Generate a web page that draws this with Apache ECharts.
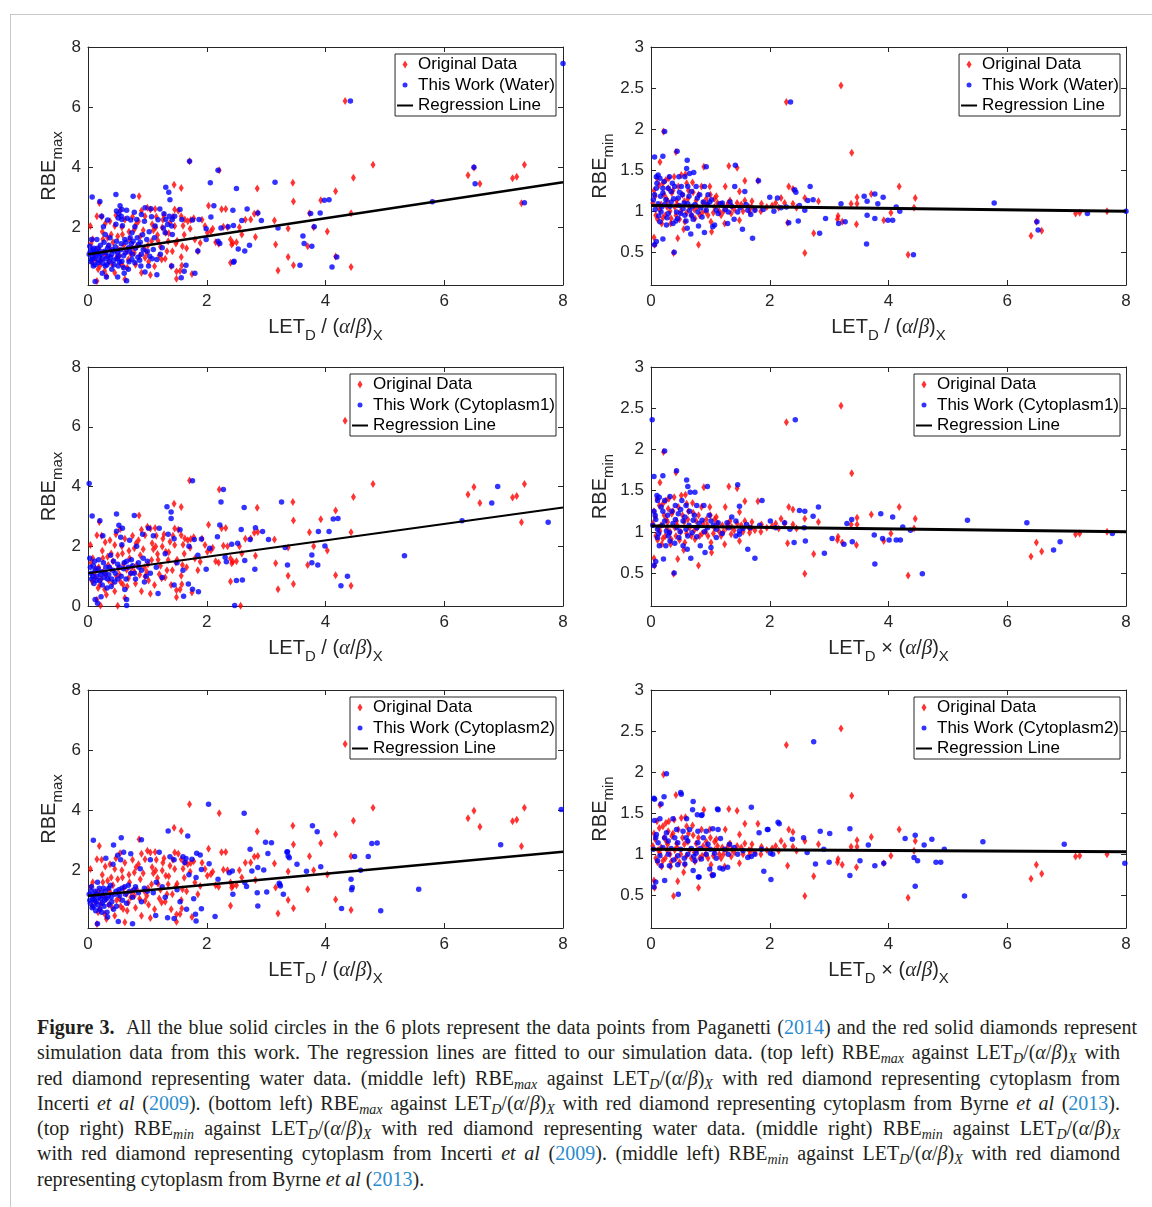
<!DOCTYPE html>
<html>
<head>
<meta charset="utf-8">
<script src="https://cdn.jsdelivr.net/npm/echarts@6/dist/echarts.min.js"></script>
<style>
  body { margin: 0; background: #fff; }
  #frame { position: absolute; left: 10px; top: 14px; width: 1142px; height: 1193px; border-top: 1px solid #c8c8c8; border-left: 1px solid #c8c8c8; }
  #chart { position: absolute; left: 0; top: 0; width: 1152px; height: 1000px; }
  #caption { position: absolute; left: 37px; top: 1015px; width: 1083px; font-family: 'Liberation Serif', serif; font-size: 20px; line-height: 25.3px; color: #231f20; }
  #caption div { white-space: nowrap; text-align: justify; text-align-last: justify; }
  #caption div.first { width: 1100px; }
  #caption div.last { text-align-last: left; }
  #caption sub { font-size: 0.7em; line-height: 0; vertical-align: -0.3em; }
  .yr { color: #2b8ccd; }
</style>
</head>
<body>
<div id="frame"></div>
<div id="chart"></div>
<div id="caption">
  <div class="first"><b>Figure 3.</b>&nbsp; All the blue solid circles in the 6 plots represent the data points from Paganetti (<span class="yr">2014</span>) and the red solid diamonds represent</div>
  <div>simulation data from this work. The regression lines are fitted to our simulation data. (top left) RBE<sub><i>max</i></sub> against LET<sub><i>D</i></sub>/(<i>α</i>/<i>β</i>)<sub><i>X</i></sub> with</div>
  <div>red diamond representing water data. (middle left) RBE<sub><i>max</i></sub> against LET<sub><i>D</i></sub>/(<i>α</i>/<i>β</i>)<sub><i>X</i></sub> with red diamond representing cytoplasm from</div>
  <div>Incerti <i>et al</i> (<span class="yr">2009</span>). (bottom left) RBE<sub><i>max</i></sub> against LET<sub><i>D</i></sub>/(<i>α</i>/<i>β</i>)<sub><i>X</i></sub> with red diamond representing cytoplasm from Byrne <i>et al</i> (<span class="yr">2013</span>).</div>
  <div>(top right) RBE<sub><i>min</i></sub> against LET<sub><i>D</i></sub>/(<i>α</i>/<i>β</i>)<sub><i>X</i></sub> with red diamond representing water data. (middle right) RBE<sub><i>min</i></sub> against LET<sub><i>D</i></sub>/(<i>α</i>/<i>β</i>)<sub><i>X</i></sub></div>
  <div>with red diamond representing cytoplasm from Incerti <i>et al</i> (<span class="yr">2009</span>). (middle left) RBE<sub><i>min</i></sub> against LET<sub><i>D</i></sub>/(<i>α</i>/<i>β</i>)<sub><i>X</i></sub> with red diamond</div>
  <div class="last">representing cytoplasm from Byrne <i>et al</i> (<span class="yr">2013</span>).</div>
</div>
<script>
const xTicks = [0, 2, 4, 6, 8]
const maxTicks = [2, 4, 6, 8]
const maxTicksZero = [0, 2, 4, 6, 8]
const minTicks = [0.5, 1, 1.5, 2, 2.5, 3]

// red diamonds, RBEmax (same in the three left plots)
const origMax = [[0.04,2.04],[0.07,0.82],[0.15,0.21],[0.15,2.37],[0.19,2.81],[0.2,0.71],[0.23,2.35],[0.26,1.15],[0.29,2.13],[0.31,0.38],[0.34,1.37],[0.39,1.76],[0.45,2.04],[0.45,0.49],[0.51,1.26],[0.54,2.57],[0.58,1.76],[0.59,0.71],[0.62,0.27],[0.65,1.21],[0.68,0.93],[0.78,1.93],[0.78,1.15],[0.82,1.37],[0.85,2.2],[0.86,3.03],[0.9,0.49],[0.96,2.37],[0.96,0.99],[0.99,1.15],[1.05,2.59],[1.05,0.41],[1.07,1.54],[1.13,2.61],[1.14,1.99],[1.17,1.74],[1.2,1.06],[1.24,0.93],[1.25,1.99],[1.31,1.82],[1.35,1.54],[1.45,3.42],[1.46,2.59],[1.46,2.04],[1.48,1.46],[1.49,0.53],[1.49,0.29],[1.57,3.31],[1.57,2.37],[1.57,1.01],[1.58,0.73],[1.59,1.37],[1.63,2.26],[1.71,4.2],[1.73,2.24],[1.8,1.59],[1.89,1.48],[1.97,2.04],[2.01,1.82],[2.03,2.72],[2.07,1.87],[2.21,3.9],[2.28,2.02],[2.32,2.61],[2.4,1.59],[2.4,0.82],[2.42,1.43],[2.44,1.48],[2.59,1.76],[2.74,2.26],[2.82,1.68],[2.85,3.29],[2.86,2.48],[3.14,2.23],[3.16,1.43],[3.2,0.56],[3.37,1.96],[3.37,1.01],[3.45,3.48],[3.46,2.86],[3.46,0.74],[3.7,1.37],[3.73,2.47],[3.8,2.0],[3.92,2.9],[4.03,1.86],[4.17,3.2],[4.17,1.03],[4.33,6.2],[4.43,2.47],[4.43,0.68],[4.47,3.65],[4.8,4.08],[6.4,3.73],[6.5,3.98],[6.6,3.45],[7.15,3.63],[7.22,3.68],[7.3,2.8],[7.35,4.08],
  [0.21,0.02],[0.5,0.01],[2.57,0.01],
  [0.05,1.45],[0.1,1.1],[0.12,0.95],[0.18,1.3],[0.22,0.9],[0.25,1.6],[0.3,1.05],[0.35,0.85],[0.38,1.25],[0.42,1.5],[0.48,1.0],[0.5,1.7],[0.55,0.8],[0.6,1.4],[0.62,2.25],[0.7,1.6],[0.72,1.1],[0.75,2.35],[0.8,0.75],[0.88,1.7],[0.9,2.55],[0.95,1.3],[1.0,2.65],[1.02,0.85],[1.1,1.9],[1.15,2.35],[1.22,1.35],[1.28,2.4],[1.3,0.95],[1.38,2.15],[1.4,0.7],[1.42,1.2],[1.52,2.55],[1.55,0.55],[1.62,1.75],[1.68,2.2],[1.75,0.45],[1.85,1.2],[1.92,2.25],[2.1,1.95],[2.15,1.5],[2.2,1.45],[2.25,2.6],[2.35,2.0],[2.5,1.5],[2.55,2.0],[2.65,2.25],[2.8,2.45],
  [0.08,1.6],[0.13,1.25],[0.17,0.6],[0.24,1.85],[0.28,0.55],[0.33,1.65],[0.37,2.2],[0.41,0.75],[0.47,2.4],[0.53,1.05],[0.57,2.0],[0.66,0.65],[0.69,1.85],[0.74,1.3],[0.81,2.1],[0.87,1.05],[0.93,1.9],[1.01,1.4],[1.08,2.1],[1.12,0.7],[1.18,1.55],[1.26,2.25],[1.33,1.2],[1.36,1.8],[1.43,2.35],[1.5,1.55],[1.6,2.05],[1.66,1.3],[1.72,1.95],[1.78,2.3]]

// blue circles, RBEmax
const waterMax = [[0.03,1.37],[0.06,1.59],[0.06,0.93],[0.07,3.01],[0.09,0.71],[0.11,1.15],[0.12,0.2],[0.15,1.59],[0.17,0.82],[0.2,2.86],[0.2,1.21],[0.23,2.37],[0.24,0.47],[0.26,2.02],[0.29,1.76],[0.29,0.71],[0.31,0.35],[0.33,2.24],[0.34,1.04],[0.37,1.65],[0.4,0.6],[0.45,1.21],[0.47,3.09],[0.48,2.54],[0.48,1.54],[0.5,0.35],[0.51,2.31],[0.51,1.04],[0.51,0.71],[0.54,2.72],[0.56,2.37],[0.57,2.59],[0.57,2.26],[0.57,0.87],[0.61,0.47],[0.62,1.59],[0.65,2.57],[0.65,0.22],[0.68,1.32],[0.68,0.6],[0.72,2.24],[0.74,1.82],[0.74,0.93],[0.76,3.03],[0.76,1.54],[0.79,2.02],[0.79,0.82],[0.82,2.26],[0.85,1.43],[0.89,0.71],[0.9,2.43],[0.9,1.1],[0.96,2.65],[0.96,0.51],[0.99,1.59],[1.02,0.71],[1.04,1.04],[1.06,2.62],[1.07,2.35],[1.1,1.26],[1.13,2.04],[1.16,0.93],[1.16,0.42],[1.21,2.61],[1.25,1.32],[1.27,1.98],[1.3,1.82],[1.31,3.33],[1.31,2.26],[1.34,2.09],[1.36,3.17],[1.37,2.37],[1.38,2.92],[1.41,2.04],[1.41,0.71],[1.42,2.26],[1.42,1.76],[1.46,2.37],[1.55,2.59],[1.57,0.32],[1.58,2.26],[1.62,0.54],[1.65,0.74],[1.71,4.2],[1.76,2.24],[1.8,0.47],[1.85,1.21],[1.87,2.26],[1.99,1.95],[1.99,1.59],[2.06,3.48],[2.07,2.34],[2.12,2.72],[2.19,3.9],[2.19,1.54],[2.22,1.46],[2.24,1.98],[2.36,2.02],[2.44,2.57],[2.45,2.06],[2.45,0.84],[2.46,0.87],[2.5,3.29],[2.53,1.28],[2.59,2.23],[2.64,1.21],[2.68,2.61],[2.72,1.4],[2.86,2.48],[2.92,2.23],[3.15,3.5],[3.2,1.98],[3.57,0.74],[3.62,1.71],[3.64,1.46],[3.75,2.46],[3.77,1.37],[3.81,2.02],[3.91,2.48],[3.98,2.9],[4.06,2.92],[4.11,0.68],[4.19,1.01],[4.42,6.2],[5.8,2.85],[6.5,4.0],[6.52,3.45],[7.35,2.82],[8.0,7.45],
  [0.02,1.1],[0.05,0.85],[0.08,1.25],[0.1,0.95],[0.13,1.05],[0.16,1.3],[0.18,0.9],[0.22,1.1],[0.25,0.8],[0.28,1.2],[0.3,0.95],[0.33,1.3],[0.36,0.85],[0.4,1.1],[0.43,0.9],[0.46,1.35],[0.5,1.15],[0.53,0.85],[0.56,1.45],[0.6,1.05],[0.64,1.5],[0.7,1.2],[0.73,1.45],[0.8,1.3],[0.84,1.0],[0.88,1.5],[0.93,1.25],
  [0.04,1.2],[0.07,1.0],[0.1,1.3],[0.12,0.75],[0.14,1.15],[0.19,1.05],[0.21,1.4],[0.24,0.95],[0.27,1.5],[0.3,1.15],[0.32,0.75],[0.35,1.4],[0.38,1.0],[0.41,1.25],[0.44,0.75],[0.47,2.1],[0.49,0.95],[0.52,2.45],[0.55,1.25],[0.58,2.05],[0.6,0.65],[0.63,1.15],[0.66,2.3],[0.69,0.85],[0.71,1.65],[0.75,1.1],[0.78,2.5],[0.83,1.65],[0.87,0.9],[0.92,1.75],[0.95,2.2],[1.0,1.2],[1.03,1.85],[1.08,0.95],[1.12,1.65],[1.18,2.25],[1.22,1.1],[1.28,2.45]]

const cyto1Max = [[0.02,4.1],[0.07,3.01],[0.2,2.85],[0.48,3.08],[0.78,3.03],[1.33,3.32],[1.4,3.15],[1.4,2.93],[1.76,4.19],[2.28,3.9],[2.24,3.48],[3.26,3.48],[2.63,3.3],[2.22,2.71],[2.58,2.56],[2.82,2.62],[2.94,2.49],[3.04,2.23],[2.73,2.23],[2.18,2.32],[1.91,2.24],[1.79,2.23],[2.05,1.93],[2.42,2.07],[2.52,2.1],[3.32,1.96],[3.88,2.49],[4.06,2.49],[4.13,2.91],[4.21,2.93],[3.99,2.01],[3.77,1.71],[3.77,1.45],[3.87,1.37],[4.26,0.68],[4.37,1.0],[3.36,1.37],[2.81,1.23],[2.64,1.52],[2.5,0.85],[2.6,0.87],[2.31,1.63],[2.33,1.48],[1.99,1.23],[1.86,0.48],[1.76,0.56],[1.61,0.33],[1.45,0.7],[1.69,0.74],[1.18,0.42],[2.47,0.02],[0.65,0.02],[0.16,0.09],[0.12,0.22],[0.22,0.31],[0.65,0.22],[5.33,1.68],[6.3,2.85],[6.8,3.45],[6.9,4.0],[7.75,2.8],
  [0.03,1.6],[0.05,1.1],[0.06,0.9],[0.09,1.35],[0.1,0.75],[0.12,1.2],[0.15,1.0],[0.18,1.55],[0.2,0.85],[0.23,1.15],[0.25,2.35],[0.27,0.95],[0.3,1.3],[0.32,0.6],[0.35,1.05],[0.38,1.7],[0.4,0.9],[0.42,1.2],[0.45,0.8],[0.48,2.5],[0.5,1.4],[0.52,2.7],[0.55,2.3],[0.56,1.0],[0.58,2.6],[0.6,1.25],[0.62,0.55],[0.65,1.5],[0.7,2.2],[0.72,1.1],[0.75,1.35],[0.8,0.9],[0.82,2.0],[0.85,1.45],[0.9,1.2],[0.92,2.4],[0.95,0.8],[1.0,1.5],[1.02,2.6],[1.05,1.1],[1.1,2.35],[1.15,1.3],[1.2,2.6],[1.25,0.95],[1.3,1.75],[1.35,2.4],[1.45,2.25],[1.5,1.45],[1.55,2.55],[1.6,1.2],[1.7,2.0],[1.85,1.7],
  [0.04,1.3],[0.08,1.0],[0.11,1.5],[0.14,0.85],[0.17,1.25],[0.21,1.05],[0.24,0.7],[0.26,1.45],[0.29,1.1],[0.33,0.9],[0.36,1.3],[0.39,0.65],[0.43,1.5],[0.46,1.1],[0.5,0.9],[0.53,1.3],[0.57,2.05],[0.61,1.45],[0.64,0.9],[0.68,1.3],[0.73,1.55],[0.78,1.1],[0.86,1.3],[0.93,1.6],[0.98,1.0]]

const cyto2Max = [[0.09,3.0],[0.56,3.08],[0.43,2.84],[0.9,3.02],[1.35,3.31],[1.68,3.14],[2.03,4.2],[2.63,3.9],[3.78,3.48],[3.86,3.28],[3.09,2.92],[2.73,2.7],[3.03,2.56],[3.35,2.61],[3.39,2.42],[3.52,2.2],[3.23,1.53],[3.24,1.48],[3.68,1.97],[3.92,2.12],[3.29,1.2],[3.01,1.28],[2.86,0.81],[2.67,1.46],[2.64,1.59],[2.76,1.98],[2.86,2.09],[2.96,2.01],[2.44,1.2],[2.43,1.98],[2.38,1.92],[2.19,1.7],[2.04,2.22],[1.91,2.03],[1.82,1.76],[1.65,2.39],[1.83,2.57],[1.89,2.51],[1.75,2.37],[1.63,2.26],[2.14,0.46],[1.91,0.72],[1.82,0.31],[1.81,0.54],[1.66,0.7],[1.45,0.4],[1.34,0.42],[1.14,0.5],[0.75,0.22],[0.16,0.22],[0.51,0.3],[4.27,0.73],[4.43,1.7],[4.45,1.43],[4.44,1.35],[4.49,2.46],[4.59,2.0],[4.72,2.46],[4.78,2.89],[4.87,2.91],[4.93,0.65],[5.57,1.37],[6.95,2.85],[7.97,4.02],[3.22,1.57],[3.37,2.48],[3.36,2.62],[2.99,2.93],[2.85,1.25],
  [0.02,1.2],[0.04,0.9],[0.06,1.45],[0.08,1.05],[0.1,0.8],[0.12,1.3],[0.14,0.95],[0.16,1.6],[0.18,1.1],[0.2,0.7],[0.22,1.25],[0.24,0.9],[0.26,1.4],[0.28,1.0],[0.3,2.4],[0.32,0.6],[0.34,1.15],[0.36,0.85],[0.38,1.5],[0.4,0.95],[0.42,2.2],[0.45,1.2],[0.48,0.8],[0.5,2.5],[0.52,1.35],[0.55,2.35],[0.58,1.0],[0.6,2.6],[0.62,1.45],[0.65,0.9],[0.7,1.3],[0.72,2.55],[0.75,1.1],[0.8,1.45],[0.85,1.25],[0.88,2.05],[0.9,0.95],[0.95,1.4],[1.0,1.3],[1.05,2.35],[1.1,1.25],[1.15,1.6],[1.2,2.6],[1.25,1.45],[1.3,1.1],[1.38,2.45],[1.45,2.35],[1.5,1.35],[1.55,0.95],[1.6,2.45],[1.7,1.85],[1.78,1.05],
  [0.03,1.0],[0.05,1.3],[0.07,0.75],[0.09,1.15],[0.11,1.0],[0.13,0.65],[0.15,1.2],[0.17,0.85],[0.19,1.4],[0.21,1.05],[0.23,0.6],[0.25,1.15],[0.27,0.8],[0.29,1.3],[0.31,1.05],[0.33,0.45],[0.35,1.4],[0.39,1.1],[0.43,0.7],[0.47,1.3],[0.53,1.15],[0.57,1.4],[0.63,1.2],[0.68,1.5],[0.78,1.35]]

// red diamonds, RBEmin (same in the three right plots)
const origMin = [[0.05,0.68],[0.06,0.59],[0.15,1.6],[0.15,1.01],[0.2,1.34],[0.21,1.97],[0.26,1.15],[0.29,1.28],[0.34,0.91],[0.38,0.49],[0.39,1.42],[0.42,1.72],[0.43,1.13],[0.45,0.67],[0.51,1.44],[0.57,0.87],[0.6,1.34],[0.62,1.15],[0.71,1.23],[0.74,0.91],[0.76,1.13],[0.8,0.59],[0.85,1.3],[0.89,1.54],[0.93,1.15],[0.96,0.95],[0.99,1.3],[1.01,0.87],[1.02,0.75],[1.07,1.15],[1.07,1.05],[1.18,0.95],[1.24,0.85],[1.25,1.3],[1.27,1.05],[1.31,1.55],[1.33,1.13],[1.35,0.97],[1.45,1.53],[1.49,1.24],[1.49,0.89],[1.58,1.37],[1.58,1.13],[1.66,0.99],[1.69,1.05],[1.8,1.37],[1.86,1.09],[2.04,1.07],[2.19,1.16],[2.28,2.33],[2.3,0.86],[2.32,1.3],[2.39,1.27],[2.39,1.09],[2.59,1.16],[2.59,0.49],[2.74,0.73],[2.82,1.12],[3.14,0.9],[3.15,0.94],[3.2,2.53],[3.22,0.87],[3.37,1.09],[3.38,1.71],[3.46,0.84],[3.47,1.17],[3.47,1.09],[3.71,1.21],[3.92,0.89],[4.04,0.98],[4.18,1.3],[4.33,0.47],[4.43,1.04],[4.45,1.16],[6.4,0.7],[6.49,0.87],[6.58,0.76],[7.15,0.97],[7.22,0.98],[7.68,1.0],
  [0.03,1.1],[0.05,1.25],[0.08,0.95],[0.1,1.4],[0.12,1.05],[0.18,0.85],[0.22,1.2],[0.24,0.95],[0.27,1.05],[0.3,1.4],[0.33,0.85],[0.37,1.25],[0.4,1.05],[0.42,0.95],[0.46,1.3],[0.5,1.0],[0.53,1.2],[0.55,0.78],[0.58,1.45],[0.65,1.05],[0.68,0.95],[0.7,1.35],[0.78,1.05],[0.82,0.95],[0.88,1.1],[0.92,1.0],[1.0,1.2],[1.05,0.98],[1.12,1.1],[1.15,1.0],[1.2,1.08],[1.3,1.1],[1.4,1.02],[1.45,1.1],[1.55,1.0],[1.65,1.05],[1.75,1.02],[1.95,1.05],[2.1,1.1],[2.15,1.04],[2.25,1.1],[2.45,1.04],
  [0.07,1.18],[0.11,0.9],[0.14,1.32],[0.17,1.08],[0.2,0.92],[0.25,1.38],[0.28,1.12],[0.32,1.0],[0.35,1.22],[0.44,1.08],[0.48,0.9],[0.56,1.12],[0.6,0.98],[0.63,1.25],[0.73,1.02],[0.8,1.2],[0.86,0.98],[0.95,1.08],[1.1,1.18],[1.22,1.0],[1.36,1.06],[1.52,1.08],[1.7,1.12],[1.85,1.0]]

// blue circles, RBEmin
const waterMin = [[0.06,1.66],[0.06,1.2],[0.06,0.59],[0.09,1.42],[0.09,1.28],[0.09,0.63],[0.12,1.44],[0.12,1.09],[0.15,1.4],[0.15,0.87],[0.17,0.99],[0.2,1.67],[0.2,1.28],[0.2,1.22],[0.2,0.66],[0.23,1.97],[0.23,1.08],[0.26,0.83],[0.29,1.28],[0.29,0.97],[0.31,1.42],[0.34,1.24],[0.34,1.11],[0.37,0.85],[0.39,0.5],[0.4,1.3],[0.43,0.99],[0.44,1.73],[0.45,0.91],[0.47,1.42],[0.48,1.23],[0.48,1.07],[0.51,1.3],[0.54,1.03],[0.57,1.42],[0.57,0.95],[0.6,1.52],[0.61,1.62],[0.61,0.79],[0.62,1.3],[0.62,1.09],[0.65,1.46],[0.65,1.01],[0.67,0.72],[0.68,1.24],[0.68,0.95],[0.72,1.47],[0.74,1.08],[0.76,1.3],[0.79,0.99],[0.8,0.82],[0.82,1.2],[0.88,1.11],[0.9,1.3],[0.9,0.74],[0.93,1.54],[0.93,1.01],[0.96,1.2],[0.99,1.11],[1.04,0.81],[1.07,0.83],[1.1,1.01],[1.16,1.09],[1.29,0.85],[1.3,0.99],[1.33,1.11],[1.4,0.9],[1.41,1.3],[1.42,1.56],[1.46,0.99],[1.54,0.78],[1.58,1.24],[1.63,1.01],[1.71,0.67],[1.75,1.01],[1.81,1.37],[1.89,1.02],[2.0,1.17],[2.07,1.0],[2.13,1.16],[2.19,1.04],[2.28,1.05],[2.32,0.86],[2.35,2.33],[2.42,1.26],[2.44,1.23],[2.48,0.88],[2.5,1.07],[2.59,1.01],[2.64,1.13],[2.68,1.3],[2.73,1.14],[2.84,0.73],[2.94,0.91],[3.16,0.85],[3.2,1.09],[3.27,0.87],[3.59,1.18],[3.63,0.6],[3.64,1.12],[3.64,0.95],[3.77,1.21],[3.77,0.91],[3.82,1.09],[3.91,1.17],[3.99,0.89],[4.07,0.89],[4.13,1.05],[4.19,1.0],[4.42,0.47],[5.78,1.1],[6.5,0.87],[6.52,0.77],[7.35,0.97],[8.0,1.0],
  [0.04,1.14],[0.07,1.02],[0.1,1.34],[0.13,0.94],[0.16,1.18],[0.18,1.05],[0.22,1.36],[0.25,1.14],[0.27,0.92],[0.32,1.06],[0.36,1.34],[0.38,1.15],[0.42,0.88],[0.46,1.16],[0.5,0.97],[0.53,1.2],[0.56,1.1],[0.59,0.88],[0.64,1.18],[0.7,1.06],[0.71,0.9],[0.78,1.16],[0.84,1.04],[0.86,0.93],[0.95,1.08],[1.02,1.14],[1.13,0.97],[1.2,1.1],[1.25,1.02],[1.36,1.06],[1.5,1.04],[1.6,1.08],[1.68,0.96]]

const cyto1Min = [[0.02,2.36],[0.23,1.98],[0.43,1.74],[0.05,1.67],[0.2,1.68],[0.6,1.63],[0.62,1.55],[0.95,1.55],[1.46,1.57],[1.49,1.31],[1.87,1.38],[2.43,2.36],[2.5,1.26],[2.59,1.25],[2.82,1.3],[2.73,1.19],[3.3,1.1],[3.38,1.15],[3.87,1.22],[4.07,1.18],[4.24,1.06],[4.37,1.02],[5.33,1.14],[6.33,1.11],[6.78,0.78],[6.89,0.88],[7.77,0.98],[4.57,0.49],[3.77,0.61],[3.9,0.92],[4.01,0.9],[4.13,0.9],[4.2,0.9],[3.76,0.96],[3.39,0.88],[3.25,0.85],[3.05,0.92],[2.92,0.74],[2.6,0.89],[2.41,0.87],[1.63,0.79],[1.75,0.68],[1.01,0.81],[0.91,0.75],[0.83,0.83],[0.67,0.68],[0.61,0.79],[0.39,0.5],[0.21,0.67],[0.25,0.83],[0.05,0.59],[0.08,0.64],
  [0.11,1.38],[0.1,1.44],[0.14,1.42],[0.23,1.38],[0.32,1.43],[0.41,1.32],[0.52,1.38],[0.59,1.32],[0.66,1.48],[0.74,1.48],[0.77,1.32],[0.89,1.32],[0.05,1.25],[0.2,1.25],[0.35,1.25],[0.5,1.27],[0.65,1.25],[0.08,1.15],[0.23,1.13],[0.41,1.15],[0.54,1.13],[0.71,1.14],[0.86,1.14],[1.01,1.13],[1.13,1.11],[1.28,1.11],[1.43,1.13],[1.61,1.09],[1.83,1.08],[2.01,1.13],[2.25,1.11],[0.11,1.03],[0.26,1.01],[0.44,1.05],[0.59,1.03],[0.77,1.05],[0.95,1.05],[1.1,1.03],[1.31,1.05],[1.49,1.01],[1.67,1.05],[2.1,1.05],[2.34,1.03],[2.58,1.05],[0.11,0.93],[0.29,0.95],[0.47,0.93],[0.62,0.95],[0.77,0.94],[1.1,0.93],[1.43,0.95],[1.49,0.97],[0.14,0.83],[0.32,0.89],[0.54,0.83],
  [0.03,1.08],[0.07,1.2],[0.13,0.98],[0.17,1.3],[0.19,1.08],[0.28,1.2],[0.31,0.99],[0.37,1.1],[0.4,0.86],[0.46,1.22],[0.49,1.0],[0.57,1.18],[0.64,1.08],[0.69,0.99],[0.73,1.2],[0.81,1.1],[0.9,1.0],[0.98,1.2],[1.05,1.08],[1.2,0.98],[1.36,1.18],[1.55,1.04]]

const cyto2Min = [[2.74,2.37],[0.26,1.98],[0.5,1.75],[0.05,1.68],[0.22,1.7],[0.71,1.64],[0.7,1.54],[0.86,1.48],[1.12,1.55],[1.69,1.57],[2.14,1.39],[3.01,1.25],[2.85,1.28],[3.35,1.31],[4.28,1.19],[4.45,1.23],[4.6,1.11],[4.73,1.18],[4.94,1.06],[5.59,1.15],[6.96,1.12],[7.98,0.89],[5.28,0.49],[4.45,0.61],[4.43,0.96],[4.49,0.92],[4.8,0.9],[4.88,0.9],[3.92,0.89],[3.77,0.86],[3.52,0.92],[3.35,0.74],[3.0,0.9],[2.77,0.88],[2.63,1.02],[2.02,0.69],[1.9,0.79],[1.69,0.97],[1.05,0.75],[1.16,0.83],[0.8,0.72],[0.71,0.8],[0.46,0.51],[0.23,0.68],[0.05,0.6],[0.08,0.66],[2.91,1.06],[3.66,1.11],[2.57,1.2],[2.38,1.18],[1.96,1.3],[1.82,1.26],
  [0.06,1.67],[0.17,1.61],[0.51,1.73],[0.78,1.48],[1.13,1.54],[0.06,1.41],[0.15,1.43],[0.37,1.43],[0.6,1.43],[0.85,1.47],[0.09,1.24],[0.26,1.26],[0.43,1.3],[0.54,1.28],[0.65,1.3],[0.79,1.28],[0.93,1.28],[1.13,1.3],[1.04,1.31],[0.12,1.14],[0.29,1.16],[0.45,1.14],[0.62,1.16],[0.79,1.14],[0.96,1.12],[1.17,1.19],[1.32,1.12],[0.15,0.98],[0.29,1.0],[0.45,0.98],[0.62,1.0],[0.76,1.01],[0.93,1.0],[1.07,1.01],[1.3,1.0],[1.46,1.0],[1.63,0.96],[1.75,1.0],[1.86,1.06],[0.17,0.86],[0.31,0.86],[0.45,0.87],[0.57,0.88],[0.74,0.92],[0.85,0.94],[0.99,0.82],[1.21,0.82],[1.29,0.84],[1.04,0.74],[0.81,0.72],[1.97,1.3],[2.16,1.37],[2.05,1.0],[2.01,1.01],
  [0.04,1.06],[0.08,1.2],[0.11,0.92],[0.2,1.08],[0.23,1.2],[0.34,1.07],[0.38,0.93],[0.4,1.2],[0.5,1.06],[0.56,0.95],[0.59,1.2],[0.68,1.07],[0.72,0.97],[0.83,1.07],[0.88,1.2],[1.0,1.06],[1.1,0.95],[1.24,1.06],[1.4,1.08],[1.55,1.04]]

// regression line end points
const fitWaterMax = [[0, 1.1], [8, 3.5]]
const fitCyto1Max = [[0, 1.1], [8, 3.3]]
const fitCyto2Max = [[0, 1.15], [8, 2.62]]
const fitWaterMin = [[0, 1.07], [8, 1.0]]
const fitCyto1Min = [[0, 1.07], [8, 1.0]]
const fitCyto2Min = [[0, 1.06], [8, 1.03]]

const sans = 'Liberation Sans, Arial, sans-serif'
const ink = '#262626'

const panels = [
    { left: 88, top: 47, height: 238, yMin: 0.08, yMax: 8, ticks: maxTicks, sub: 'max', op: '/', red: origMax, blue: waterMax, blueName: 'This Work (Water)', fit: fitWaterMax, lw: 2.5, legTop: 54, legRight: 596 },
    { left: 651, top: 47, height: 238, yMin: 0.1, yMax: 3, ticks: minTicks, sub: 'min', op: '/', red: origMin, blue: waterMin, blueName: 'This Work (Water)', fit: fitWaterMin, lw: 3, legTop: 54, legRight: 32 },
    { left: 88, top: 367, height: 239, yMin: 0, yMax: 8, ticks: maxTicksZero, sub: 'max', op: '/', red: origMax, blue: cyto1Max, blueName: 'This Work (Cytoplasm1)', fit: fitCyto1Max, lw: 2, legTop: 374, legRight: 596 },
    { left: 651, top: 367, height: 239, yMin: 0.1, yMax: 3, ticks: minTicks, sub: 'min', op: '×', red: origMin, blue: cyto1Min, blueName: 'This Work (Cytoplasm1)', fit: fitCyto1Min, lw: 3, legTop: 374, legRight: 32 },
    { left: 88, top: 690, height: 238, yMin: 0.08, yMax: 8, ticks: maxTicks, sub: 'max', op: '/', red: origMax, blue: cyto2Max, blueName: 'This Work (Cytoplasm2)', fit: fitCyto2Max, lw: 2.5, legTop: 697, legRight: 596 },
    { left: 651, top: 690, height: 238, yMin: 0.1, yMax: 3, ticks: minTicks, sub: 'min', op: '×', red: origMin, blue: cyto2Min, blueName: 'This Work (Cytoplasm2)', fit: fitCyto2Min, lw: 3, legTop: 697, legRight: 32 },
]

// subscripts pushed down with top padding
const rich = {
    t: { fontSize: 20, fontFamily: sans, color: ink },
    s: { fontSize: 15, fontFamily: sans, color: ink, padding: [16, 0, 0, 0] },
    g: { fontSize: 21, fontFamily: 'Liberation Serif, serif', fontStyle: 'italic', color: ink },
}
const diamondIcon = 'path://M2.5,0L5,4L2.5,8L0,4Z'
const circleIcon = 'path://M0,0M8,8M1.5,4A2.5,2.5,0,1,1,6.5,4A2.5,2.5,0,1,1,1.5,4Z'
const lineIcon = 'path://M0,0H16V2H0Z'

const line = { show: true, onZero: false, lineStyle: { color: ink, width: 1 } }
const tick = { show: true, inside: true, length: 5, lineStyle: { color: ink } }
const label = { fontSize: 17, color: ink, fontFamily: sans }

const grid = [], xAxis = [], yAxis = [], series = [], legend = []
panels.forEach((p, i) => {
    grid.push({ left: p.left, top: p.top, width: 475, height: p.height })
    xAxis.push({
        gridIndex: i, type: 'value', position: 'bottom', min: 0, max: 8, interval: 2,
        axisLine: line, axisTick: tick, splitLine: { show: false },
        axisLabel: { ...label, margin: 8, customValues: xTicks },
        name: '{t|LET}{s|D}{t| ' + p.op + ' (}{g|α}{t|/}{g|β}{t|)}{s|X}',
        nameLocation: 'middle', nameGap: 27, nameTextStyle: { rich },
    })
    xAxis.push({
        gridIndex: i, type: 'value', position: 'top', min: 0, max: 8, interval: 2,
        axisLine: line, axisTick: tick, splitLine: { show: false }, axisLabel: { show: false },
    })
    yAxis.push({
        gridIndex: i, type: 'value', position: 'left', min: p.yMin, max: p.yMax,
        axisLine: line, axisTick: { ...tick, customValues: p.ticks }, splitLine: { show: false },
        axisLabel: { ...label, margin: 7, customValues: p.ticks },
        name: '{t|RBE}{s|' + p.sub + '}', nameLocation: 'middle', nameRotate: 90, nameGap: 23,
        nameTextStyle: { rich },
    })
    yAxis.push({
        gridIndex: i, type: 'value', position: 'right', min: p.yMin, max: p.yMax,
        axisLine: line, axisTick: { ...tick, customValues: p.ticks }, splitLine: { show: false },
        axisLabel: { show: false },
    })
    series.push({
        type: 'scatter', name: 'Original Data', xAxisIndex: 2 * i, yAxisIndex: 2 * i,
        data: p.red, symbol: 'diamond', symbolSize: [5, 8], itemStyle: { color: '#ff0000' }, z: 2,
    })
    series.push({
        type: 'scatter', name: p.blueName, xAxisIndex: 2 * i, yAxisIndex: 2 * i,
        data: p.blue, symbol: 'circle', symbolSize: 5.5, itemStyle: { color: '#0000ff' }, z: 3,
    })
    series.push({
        type: 'line', name: 'Regression Line', xAxisIndex: 2 * i, yAxisIndex: 2 * i,
        data: p.fit, symbol: 'none', lineStyle: { color: '#000', width: p.lw }, z: 4,
    })
    legend.push({
        orient: 'vertical', top: p.legTop, right: p.legRight,
        itemWidth: 16, itemHeight: 8, itemGap: 3.5, padding: [2, 1, 2, 2],
        borderColor: ink, borderWidth: 1, backgroundColor: '#fff', selectedMode: false,
        textStyle: { fontSize: 17, color: '#000', fontFamily: sans },
        data: [
            { name: 'Original Data', icon: diamondIcon },
            { name: p.blueName, icon: circleIcon },
            { name: 'Regression Line', icon: lineIcon, itemStyle: { color: '#000' } },
        ],
    })
})

const chart = echarts.init(document.getElementById('chart'))
chart.setOption({ animation: false, grid, xAxis, yAxis, series, legend })
</script>
</body>
</html>
